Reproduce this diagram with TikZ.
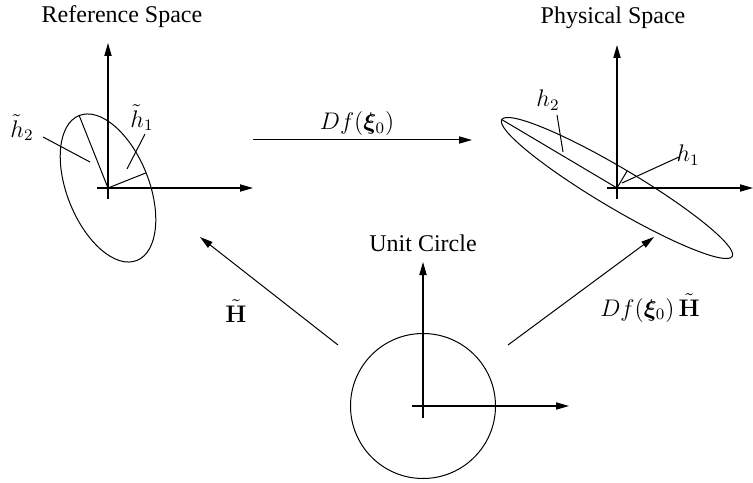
\documentclass[tikz,border=0pt,12pt]{standalone}
\usepackage[no-math]{fontspec}
\setmainfont{Liberation Serif}
\usepackage{amsmath,amssymb,bm}
\usepackage{tikz}
\usetikzlibrary{arrows.meta,calc,positioning}

\tikzset{
  axis/.style={line width=0.6pt,-{Triangle[length=6.5pt,width=3.6pt]}},
  maparrow/.style={line width=0.5pt,-{Triangle[length=6.5pt,width=3.6pt]}},
  leader/.style={line width=0.5pt},
}

\begin{document}
\begin{tikzpicture}[x=0.5pt,y=0.5pt]
  \useasboundingbox (0,0) rectangle (753,482);

  % origins
  \coordinate (refO) at (108,294);
  \coordinate (physO) at (617,294);
  \coordinate (unitO) at (423,76);

  % reference space
  \node (reftitle) at (122,465) {Reference Space};
  \draw[axis] (108,283) -- (108,439);
  \draw[axis] (97,294) -- (253,294);
  \draw[line width=0.5pt,rotate around={111.7:(refO)}] (refO) ellipse [x radius=78,y radius=41];
  \coordinate (refmaj) at ($(refO)+(111.7:78)$);
  \coordinate (refmin) at ($(refO)+(21.7:41)$);
  \draw[leader] (refO) -- (refmaj);
  \draw[leader] (refO) -- (refmin);
  \node (htwo) at (22,354) {$\tilde h_2$};
  \node (hone) at (142,364) {$\tilde h_1$};
  \coordinate (htwoA) at (43,345);
  \coordinate (htwoB) at (90,320);
  \coordinate (honeA) at (145,348);
  \coordinate (honeB) at (127,313);
  \draw[leader] (htwoA) -- (htwoB);
  \draw[leader] (honeA) -- (honeB);

  % physical space
  \node (phystitle) at (613,464) {Physical Space};
  \draw[axis] (617,283) -- (617,437);
  \draw[axis] (607,294) -- (753,294);
  \draw[line width=0.5pt,rotate around={-30.7:(physO)}] (physO) ellipse [x radius=134,y radius=20];
  \coordinate (physmaj) at ($(physO)+(149.3:134)$);
  \coordinate (physmin) at ($(physO)+(59.3:20)$);
  \draw[leader] (physO) -- (physmaj);
  \draw[leader] (physO) -- (physmin);
  \node (ptwo) at (548,382) {$h_2$};
  \node (pone) at (688,327) {$h_1$};
  \coordinate (ptwoA) at (557,367);
  \coordinate (ptwoB) at (563,330);
  \coordinate (poneA) at (679,325);
  \coordinate (poneB) at (622,299);
  \draw[leader] (ptwoA) -- (ptwoB);
  \draw[leader] (poneA) -- (poneB);

  % unit circle
  \node (unittitle) at (423,239) {Unit Circle};
  \draw[line width=0.5pt] (unitO) circle [radius=72.5];
  \draw[axis] (423,64) -- (423,220);
  \draw[axis] (412,76) -- (569,76);

  % maps
  \coordinate (topA) at (253,342);
  \coordinate (topB) at (472,342);
  \coordinate (leftA) at (338,137);
  \coordinate (leftB) at (200,245);
  \coordinate (rightA) at (508,137);
  \coordinate (rightB) at (654,245);
  \draw[maparrow] (topA) -- (topB);
  \draw[maparrow] (leftA) -- (leftB);
  \draw[maparrow] (rightA) -- (rightB);
  \node (dflabel) at (357,358) {$Df(\bm{\xi}_0)$};
  \node (hlabel) at (236,171) {$\tilde{\mathbf{H}}$};
  \node (dfhlabel) at (650,174) {$Df(\bm{\xi}_0)\,\tilde{\mathbf{H}}$};
\end{tikzpicture}
\end{document}
